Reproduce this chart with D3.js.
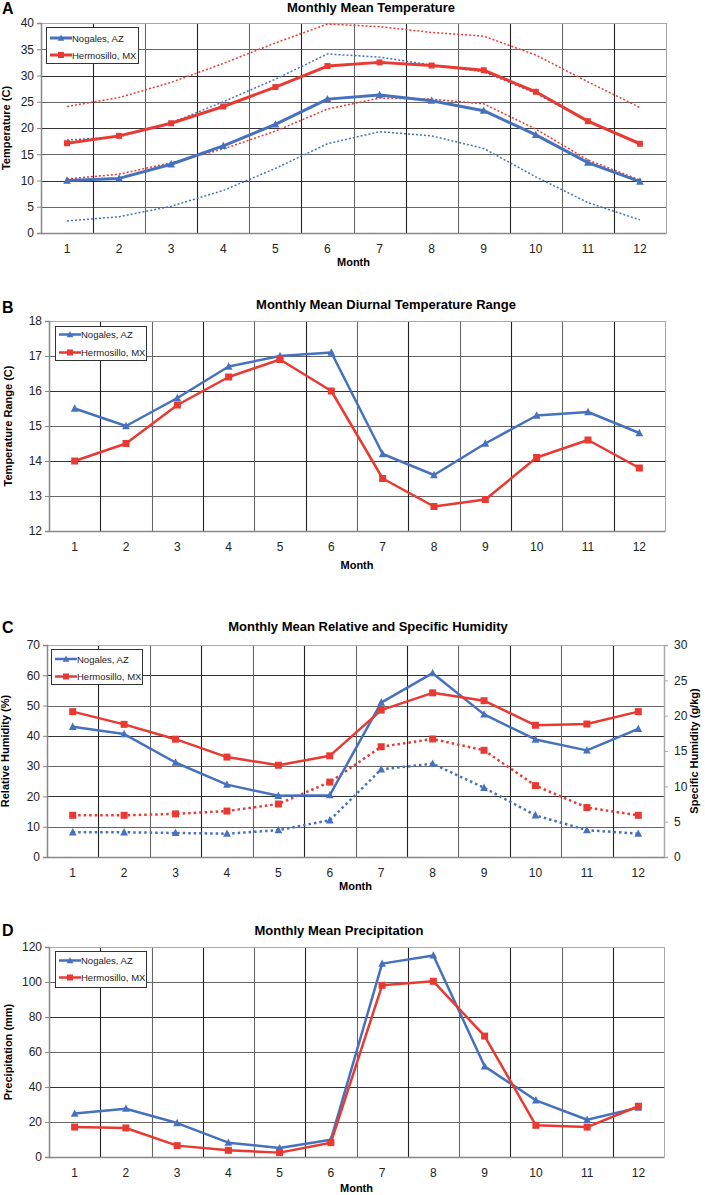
<!DOCTYPE html>
<html>
<head>
<meta charset="utf-8">
<script src="https://cdn.jsdelivr.net/npm/d3@7"></script>
<style>
  body { margin: 0; background: #fff; }
  svg { display: block; font-family: "Liberation Sans", Arial, sans-serif; }
</style>
</head>
<body>
<svg id="chart" width="705" height="1195"></svg>
<script>
// ---------- DATA ----------
const months = [1,2,3,4,5,6,7,8,9,10,11,12];
const seriesNames = ["Nogales, AZ", "Hermosillo, MX"];

// Panel A: temperature (C)
const nogalesTempMean = [10.0,10.4,13.1,16.6,20.7,25.5,26.3,25.2,23.3,18.7,13.4,9.8];
const nogalesTempMax  = [17.7,18.3,21.0,25.0,29.3,34.1,33.5,32.0,30.7,26.6,21.3,17.1];
const nogalesTempMin  = [2.3,3.1,5.1,8.1,12.3,17.0,19.3,18.5,16.1,10.7,5.8,2.5];
const hermoTempMean   = [17.1,18.5,20.9,24.1,27.8,31.8,32.5,31.9,31.0,26.9,21.3,17.0];
const hermoTempMax    = [24.1,25.8,28.7,32.3,36.2,39.8,39.3,38.2,37.5,33.9,28.8,23.9];
const hermoTempMin    = [10.3,11.2,13.4,16.0,19.4,23.6,25.7,25.5,24.6,19.8,13.9,10.1];

// Panel B: diurnal temperature range (C)
const nogalesDTR = [15.5,15.0,15.8,16.7,17.0,17.1,14.2,13.6,14.5,15.3,15.4,14.8];
const hermoDTR   = [14.0,14.5,15.6,16.4,16.9,16.0,13.5,12.7,12.9,14.1,14.6,13.8];

// Panel C: relative humidity (%) and specific humidity (g/kg)
const nogalesRH = [43.0,40.6,31.2,23.9,20.2,20.4,51.0,60.7,47.1,38.8,35.2,42.3];
const hermoRH   = [48.0,43.8,38.9,33.0,30.3,33.4,48.5,54.2,51.6,43.5,43.9,48.0];
const nogalesSH = [3.5,3.5,3.4,3.3,3.8,5.2,12.4,13.2,9.8,5.9,3.8,3.3];
const hermoSH   = [5.9,5.9,6.1,6.5,7.5,10.6,15.6,16.7,15.1,10.1,7.0,5.9];

// Panel D: precipitation (mm)
const nogalesPrecip = [24.8,27.6,19.4,8.2,5.1,9.9,110.5,115.2,51.8,32.4,21.3,28.2];
const hermoPrecip   = [17.1,16.6,6.5,3.8,2.5,8.2,98.1,100.4,69.1,18.1,17.1,29.0];

// Tick values
const ticksA = [0,5,10,15,20,25,30,35,40];
const ticksB = [12,13,14,15,16,17,18];
const ticksCLeft = [0,10,20,30,40,50,60,70];
const ticksCRight = [0,5,10,15,20,25,30];
const ticksD = [0,20,40,60,80,100,120];

// ---------- STYLE ----------
const BLUE = "#4671BE";
const RED = "#E83A32";
const svg = d3.select("#chart");

function panel(cfg) {
  const g = svg.append("g");
  const x = d3.scaleBand().domain(months).range([cfg.left, cfg.right]);
  const y = d3.scaleLinear().domain(cfg.yDomain).range([cfg.bottom, cfg.top]);
  const xc = m => x(m) + x.bandwidth() / 2;

  // horizontal grid
  g.selectAll(".hg").data(cfg.yTicks.filter(t => t !== cfg.yDomain[0] && t !== cfg.yDomain[1]))
    .join("line")
    .attr("x1", cfg.left).attr("x2", cfg.right)
    .attr("y1", d => Math.round(y(d)) + 0.5).attr("y2", d => Math.round(y(d)) + 0.5)
    .attr("stroke", (d, i) => i % 2 ? "#333" : "#666").attr("stroke-width", 1.1);
  // vertical grid at band boundaries
  g.selectAll(".vg").data(months.slice(1))
    .join("line")
    .attr("x1", d => Math.round(x(d)) + 0.5).attr("x2", d => Math.round(x(d)) + 0.5)
    .attr("y1", cfg.top).attr("y2", cfg.bottom)
    .attr("stroke", (d, i) => i % 2 ? "#666" : "#222").attr("stroke-width", 1.1);
  // frame top & right (light)
  g.append("line").attr("x1", cfg.left).attr("x2", cfg.right)
    .attr("y1", cfg.top + 0.5).attr("y2", cfg.top + 0.5).attr("stroke", "#aaa");
  g.append("line").attr("x1", cfg.right + 0.5).attr("x2", cfg.right + 0.5)
    .attr("y1", cfg.top).attr("y2", cfg.bottom).attr("stroke", "#aaa");

  // left axis
  const yAxis = d3.axisLeft(y).tickValues(cfg.yTicks).tickSize(4).tickPadding(3).tickFormat(d3.format("d"));
  const ya = g.append("g").attr("transform", `translate(${cfg.left},0)`).call(yAxis);
  ya.select(".domain").attr("stroke", "#888").attr("stroke-width", 1.5);
  ya.selectAll(".tick line").attr("stroke", "#888");
  ya.selectAll("text").attr("font-size", 12).attr("fill", "#222")
    .attr("font-family", "Liberation Sans, Arial, sans-serif");

  // right axis (optional)
  let y2 = null;
  if (cfg.y2Domain) {
    y2 = d3.scaleLinear().domain(cfg.y2Domain).range([cfg.bottom, cfg.top]);
    const ra = g.append("g").attr("transform", `translate(${cfg.right},0)`)
      .call(d3.axisRight(y2).tickValues(cfg.y2Ticks).tickSize(4).tickPadding(6).tickFormat(d3.format("d")));
    ra.select(".domain").attr("stroke", "#aaa").attr("stroke-width", 1.5);
    ra.selectAll(".tick line").attr("stroke", "#aaa");
    ra.selectAll("text").attr("font-size", 12).attr("fill", "#222")
      .attr("font-family", "Liberation Sans, Arial, sans-serif");
    g.append("text")
      .attr("transform", `translate(${cfg.y2LabelX},${(cfg.top + cfg.bottom) / 2}) rotate(-90)`)
      .attr("text-anchor", "middle").attr("font-size", 11).attr("font-weight", "bold")
      .text(cfg.y2Label);
  }

  // bottom axis
  const xa = g.append("g").attr("transform", `translate(0,${cfg.bottom})`)
    .call(d3.axisBottom(x).tickSize(0).tickPadding(cfg.xTickPad));
  xa.select(".domain").attr("stroke", "#888").attr("stroke-width", 1.5);
  xa.selectAll("text").attr("font-size", 12).attr("fill", "#222")
    .attr("font-family", "Liberation Sans, Arial, sans-serif");

  // labels
  g.append("text").attr("x", (cfg.left + cfg.right) / 2).attr("y", cfg.monthY)
    .attr("text-anchor", "middle").attr("font-size", 11).attr("font-weight", "bold").text("Month");
  g.append("text")
    .attr("transform", `translate(${cfg.yLabelX},${(cfg.top + cfg.bottom) / 2}) rotate(-90)`)
    .attr("text-anchor", "middle").attr("font-size", 11).attr("font-weight", "bold")
    .text(cfg.yLabel);
  g.append("text").attr("x", cfg.titleX).attr("y", cfg.titleY)
    .attr("text-anchor", "middle").attr("font-size", 13).attr("font-weight", "bold").text(cfg.title);
  g.append("text").attr("x", 2).attr("y", cfg.letterY)
    .attr("font-size", 16).attr("font-weight", "bold").text(cfg.letter);

  // series
  cfg.series.forEach(s => {
    const ys = s.axis === 2 ? y2 : y;
    const line = d3.line().x((d, i) => xc(months[i])).y(d => ys(d));
    const path = g.append("path").datum(s.values)
      .attr("d", line).attr("fill", "none")
      .attr("stroke", s.color).attr("stroke-width", s.width)
      .attr("stroke-linejoin", "round");
    if (s.dash) path.attr("stroke-dasharray", s.dash);
    if (s.marker) drawMarkers(g, s.marker, s.values.map((v, i) => [xc(months[i]), ys(v)]), s.color, s.msize);
  });

  // legend
  const L = cfg.legend;
  g.append("rect").attr("x", L.x + 0.5).attr("y", L.y + 0.5).attr("width", L.w).attr("height", L.h)
    .attr("fill", "#fff").attr("stroke", "#333").attr("stroke-width", 1);
  const legItems = [{name: seriesNames[0], color: BLUE, marker: "tri"}, {name: seriesNames[1], color: RED, marker: "sq"}];
  legItems.forEach((it, i) => {
    const yy = L.y + L.rows[i];
    g.append("line").attr("x1", L.x + 4).attr("x2", L.x + 26).attr("y1", yy).attr("y2", yy)
      .attr("stroke", it.color).attr("stroke-width", L.lw);
    drawMarkers(g, it.marker, [[L.x + 15, yy]], it.color, L.ms);
    g.append("text").attr("x", L.x + 26).attr("y", yy + 3.5).attr("font-size", 9.5).attr("fill", "#222")
      .text(it.name);
  });
}

function drawMarkers(g, type, pts, color, size) {
  if (type === "sq") {
    g.selectAll(null).data(pts).join("rect")
      .attr("x", d => d[0] - size / 2).attr("y", d => d[1] - size / 2)
      .attr("width", size).attr("height", size).attr("fill", color);
  } else {
    const h = size, w = size * 1.1;
    g.selectAll(null).data(pts).join("path")
      .attr("d", d => `M${d[0]},${d[1] - h * 0.6}L${d[0] + w / 2},${d[1] + h * 0.45}L${d[0] - w / 2},${d[1] + h * 0.45}Z`)
      .attr("fill", color);
  }
}

// ---------- PANELS ----------
panel({
  letter: "A", letterY: 14, title: "Monthly Mean Temperature", titleX: 371, titleY: 12,
  left: 41, right: 666, top: 23, bottom: 233, yDomain: [0, 40], yTicks: ticksA,
  xTickPad: 11, monthY: 266, yLabel: "Temperature (C)", yLabelX: 10,
  legend: {x: 46, y: 27, w: 92, h: 36, rows: [11, 28], lw: 3, ms: 6},
  series: [
    {values: nogalesTempMax, color: BLUE, width: 1.5, dash: "2,2"},
    {values: nogalesTempMin, color: BLUE, width: 1.5, dash: "2,2"},
    {values: hermoTempMax, color: RED, width: 1.5, dash: "2,2"},
    {values: hermoTempMin, color: RED, width: 1.5, dash: "2,2"},
    {values: nogalesTempMean, color: BLUE, width: 3, marker: "tri", msize: 7},
    {values: hermoTempMean, color: RED, width: 3, marker: "sq", msize: 6}
  ]
});

panel({
  letter: "B", letterY: 313, title: "Monthly Mean Diurnal Temperature Range", titleX: 386, titleY: 309,
  left: 49, right: 665, top: 321, bottom: 531, yDomain: [12, 18], yTicks: ticksB,
  xTickPad: 11, monthY: 569, yLabel: "Temperature Range (C)", yLabelX: 12,
  legend: {x: 55, y: 326, w: 91, h: 34, rows: [8.5, 26.5], lw: 2.5, ms: 6},
  series: [
    {values: nogalesDTR, color: BLUE, width: 2.5, marker: "tri", msize: 7},
    {values: hermoDTR, color: RED, width: 2.5, marker: "sq", msize: 7}
  ]
});

panel({
  letter: "C", letterY: 633, title: "Monthly Mean Relative and Specific Humidity", titleX: 368, titleY: 631,
  left: 47, right: 664, top: 645, bottom: 857, yDomain: [0, 70], yTicks: ticksCLeft,
  y2Domain: [0, 30], y2Ticks: ticksCRight, y2Label: "Specific Humidity (g/kg)", y2LabelX: 698,
  xTickPad: 11, monthY: 890, yLabel: "Relative Humidity (%)", yLabelX: 9,
  legend: {x: 51, y: 649, w: 91, h: 35, rows: [10, 27.5], lw: 2.5, ms: 6},
  series: [
    {values: nogalesSH, color: BLUE, width: 2.5, dash: "2.5,3", marker: "tri", msize: 7, axis: 2},
    {values: hermoSH, color: RED, width: 2.5, dash: "2.5,3", marker: "sq", msize: 7, axis: 2},
    {values: nogalesRH, color: BLUE, width: 2.5, marker: "tri", msize: 7},
    {values: hermoRH, color: RED, width: 2.5, marker: "sq", msize: 7}
  ]
});

panel({
  letter: "D", letterY: 936, title: "Monthly Mean Precipitation", titleX: 339, titleY: 935,
  left: 49, right: 664, top: 947, bottom: 1157, yDomain: [0, 120], yTicks: ticksD,
  xTickPad: 11, monthY: 1192, yLabel: "Precipitation (mm)", yLabelX: 12,
  legend: {x: 55, y: 951, w: 91, h: 36, rows: [9.5, 26.5], lw: 2.5, ms: 6},
  series: [
    {values: nogalesPrecip, color: BLUE, width: 2.5, marker: "tri", msize: 7},
    {values: hermoPrecip, color: RED, width: 2.5, marker: "sq", msize: 7}
  ]
});
</script>
</body>
</html>
